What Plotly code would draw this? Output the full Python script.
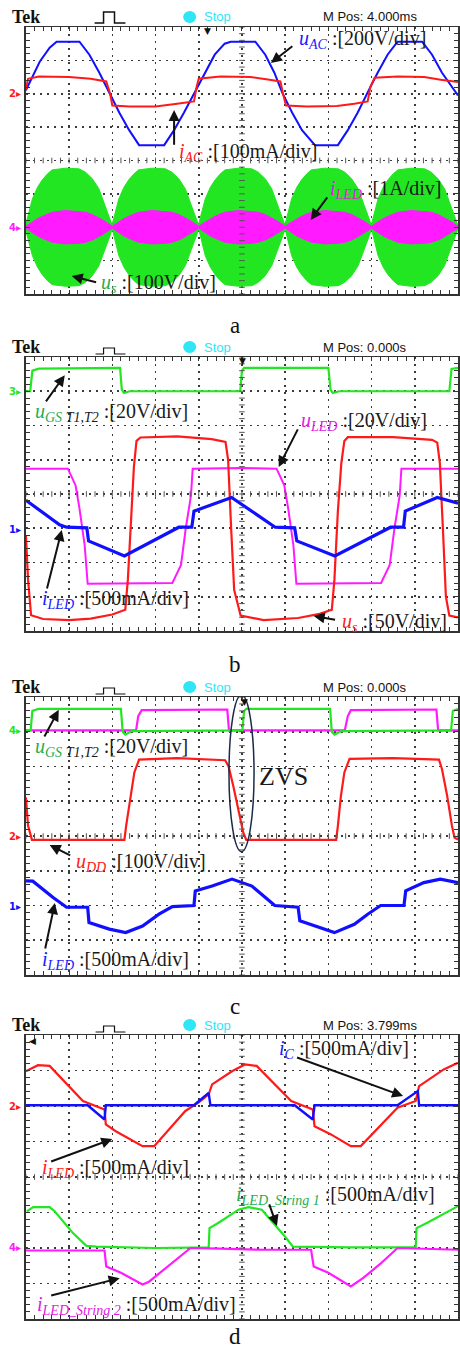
import numpy as np
import plotly.graph_objects as go

W, H = 460, 1352
LEFT = 26
PANEL_TB = [(27, 294), (357, 631), (697, 975), (1035, 1319)]

# ---------------- data (scope divisions: x 0..10, y -4..4) ----------------
# panel a
a_t_uac = [0, 0.32, 0.55, 0.71, 1.24, 1.47, 1.70, 1.93, 2.16, 2.39, 2.62, 3.20, 3.43, 3.66, 3.91,
           4.14, 4.37, 4.60, 4.74, 5.31, 5.54, 5.75, 5.93, 6.16, 6.39, 6.69, 7.22, 7.45, 7.68,
           7.91, 8.14, 8.37, 8.60, 9.17, 9.40, 9.63, 9.86, 10]
a_uac = [2.1, 2.96, 3.38, 3.56, 3.56, 3.17, 2.63, 2.04, 1.44, 0.91, 0.46, 0.46, 0.91, 1.44, 2.04,
         2.63, 3.17, 3.50, 3.56, 3.56, 3.17, 2.63, 2.04, 1.44, 0.91, 0.46, 0.46, 0.91, 1.44,
         2.04, 2.63, 3.17, 3.56, 3.56, 3.17, 2.63, 2.19, 1.95]
a_t_iac = [0, 0.05, 0.3, 1.0, 1.5, 1.86, 1.95, 2.0, 2.4, 3.0, 3.5, 3.89, 3.95, 4.0, 4.5, 5.2, 5.6,
           5.89, 5.95, 6.02, 6.5, 7.2, 7.6, 7.91, 7.97, 8.07, 8.6, 9.22, 9.6, 10]
a_iac = [2.13, 2.45, 2.52, 2.50, 2.45, 2.37, 2.0, 1.65, 1.62, 1.62, 1.70, 1.77, 2.2, 2.45, 2.52,
         2.5, 2.43, 2.37, 2.0, 1.65, 1.62, 1.63, 1.70, 1.77, 2.2, 2.48, 2.52, 2.50, 2.42, 2.35]
a_hump_start = [0, 2, 4, 6, 8]
a_env_t = [0, 0.08, 0.15, 0.27, 0.38, 0.5, 0.61, 0.92, 1.23, 1.38, 1.54, 1.69, 1.80, 1.92, 2.0]
a_us_env = [0.1, 0.5, 0.85, 1.2, 1.42, 1.6, 1.72, 1.77, 1.75, 1.65, 1.45, 1.15, 0.75, 0.35, 0.05]
a_iled_env = [0.03, 0.1, 0.16, 0.26, 0.33, 0.4, 0.45, 0.5, 0.48, 0.45, 0.38, 0.28, 0.2, 0.1, 0.03]
a_env_center = -2.0

# panel b
b_t_ugs = [0, 0.1, 0.15, 0.3, 2.18, 2.22, 2.27, 2.4, 4.96, 5.0, 5.05, 7.0, 7.05, 7.1, 7.25, 9.8, 9.85, 10]
b_ugs = [3.0, 3.0, 3.6, 3.66, 3.68, 3.05, 2.95, 3.0, 3.0, 3.6, 3.68, 3.68, 3.05, 2.95, 3.0, 3.0, 3.65, 3.68]
b_t_uled = [0, 0.97, 1.06, 1.15, 1.24, 1.36, 1.43, 2.5, 3.39, 3.59, 3.70, 3.82, 3.86, 5.0, 5.8, 5.89,
            5.98, 6.07, 6.19, 6.26, 7.3, 8.22, 8.42, 8.53, 8.65, 8.69, 10]
b_uled = [0.74, 0.74, 0.5, 0.25, -0.42, -1.49, -2.62, -2.62, -2.6, -2.07, -1.0, -0.05, 0.74, 0.76,
          0.74, 0.5, 0.25, -0.42, -1.49, -2.62, -2.62, -2.6, -2.07, -1.0, -0.05, 0.74, 0.74]
b_t_us = [0, 0.05, 0.12, 0.4, 1.0, 1.5, 2.0, 2.3, 2.36, 2.45, 2.5, 2.56, 2.65, 3.5, 4.3, 4.62, 4.68,
          4.75, 4.82, 4.97, 5.5, 6.3, 6.8, 7.08, 7.14, 7.22, 7.3, 7.37, 7.45, 8.5, 9.4, 9.52, 9.58,
          9.65, 9.72, 9.8, 10]
b_us = [-1.2, -2.5, -3.54, -3.65, -3.68, -3.64, -3.52, -3.38, -2.5, -0.5, 0.8, 1.55, 1.65, 1.68, 1.6,
        1.52, 1.0, -1.0, -2.8, -3.55, -3.68, -3.62, -3.5, -3.38, -2.5, -0.5, 0.9, 1.55, 1.66, 1.66,
        1.58, 1.5, 0.9, -1.0, -3.0, -3.55, -3.6]
b_t_iled = [0, 0.78, 0.94, 1.41, 1.45, 2.28, 3.54, 3.84, 3.89, 4.76, 5.77, 6.22, 6.27, 7.15, 8.44,
            8.74, 8.78, 9.52, 10]
b_iled = [-0.18, -0.9, -0.97, -0.99, -1.37, -1.81, -0.97, -0.97, -0.5, -0.1, -0.97, -0.99, -1.37,
          -1.81, -0.97, -0.97, -0.5, -0.1, -0.27]

# panel c
c_t_ugs = [0, 0.11, 0.15, 0.3, 2.2, 2.24, 2.3, 2.45, 5.01, 5.05, 5.1, 7.04, 7.08, 7.14, 7.3, 9.84, 9.88, 10]
c_ugs = [3.04, 3.04, 3.6, 3.66, 3.66, 3.0, 2.92, 3.02, 3.04, 3.6, 3.66, 3.66, 3.0, 2.92, 3.02, 3.04, 3.6, 3.66]
c_t_ugs2 = [0, 2.55, 2.6, 2.68, 4.66, 4.7, 7.38, 7.45, 7.52, 9.5, 9.54, 10]
c_ugs2 = [3.04, 3.04, 3.45, 3.62, 3.64, 3.04, 3.04, 3.45, 3.62, 3.64, 3.04, 3.04]
c_t_udd = [0, 0.05, 0.14, 2.28, 2.32, 2.43, 2.51, 2.62, 3.5, 4.61, 4.69, 4.80, 4.92, 5.03, 5.1, 7.18,
           7.22, 7.29, 7.37, 7.49, 8.5, 9.56, 9.63, 9.75, 9.86, 9.92, 10]
c_udd = [1.11, 0.3, -0.11, -0.11, 0.29, 1.15, 1.83, 2.2, 2.24, 2.18, 2.01, 1.44, 0.77, 0.1, -0.11,
         -0.11, 0.29, 1.15, 1.83, 2.22, 2.24, 2.2, 1.92, 1.15, 0.29, -0.05, -0.1]
c_t_iled = [0, 0.16, 0.63, 0.94, 1.43, 1.46, 1.93, 2.31, 2.70, 3.08, 3.39, 3.89, 3.92, 4.31, 4.77,
            5.23, 5.76, 6.30, 6.34, 6.76, 7.14, 7.60, 7.91, 8.21, 8.75, 8.79, 9.21, 9.59, 10]
c_iled = [-1.29, -1.3, -1.77, -2.05, -2.05, -2.49, -2.68, -2.78, -2.59, -2.25, -2.03, -2.0, -1.58,
          -1.44, -1.24, -1.44, -2.0, -2.05, -2.44, -2.63, -2.78, -2.54, -2.25, -2.0, -2.0, -1.58,
          -1.34, -1.24, -1.34]

# panel d
d_t_iled = [0.0, 0.28, 0.55, 0.74, 1.32, 1.82, 1.85, 2.08, 2.70, 2.97, 3.69, 4.0, 4.23, 4.31, 4.77,
            5.07, 5.34, 6.14, 6.64, 6.68, 7.06, 7.52, 7.75, 8.60, 9.02, 9.10, 9.67, 10]
d_iled = [2.98, 3.15, 3.13, 2.89, 2.14, 1.90, 1.48, 1.29, 0.87, 0.87, 1.86, 2.10, 2.33, 2.61, 2.98,
          3.17, 3.13, 2.14, 1.90, 1.43, 1.20, 0.87, 0.87, 1.95, 2.14, 2.56, 3.03, 3.22]
d_t_ic = [0, 1.43, 1.82, 1.85, 3.89, 4.23, 4.27, 6.22, 6.64, 6.68, 8.6, 9.07, 9.1, 10]
d_ic = [2.02, 2.02, 1.62, 2.02, 2.02, 2.37, 2.02, 2.02, 1.62, 2.02, 2.02, 2.42, 2.02, 2.02]
d_t_s1 = [0.02, 0.17, 0.55, 0.67, 1.09, 1.40, 1.63, 3.0, 4.23, 4.25, 4.46, 4.92, 5.15, 5.46, 5.99,
          6.18, 7.5, 9.02, 9.04, 9.29, 10]
d_s1 = [-0.97, -0.85, -0.85, -0.97, -1.58, -1.94, -1.96, -2.0, -1.98, -1.44, -1.29, -0.92, -0.85,
        -0.92, -1.67, -1.96, -1.98, -1.98, -1.44, -1.29, -0.82]
d_t_s2 = [0, 1.0, 1.82, 1.86, 2.2, 2.70, 2.85, 3.0, 3.4, 3.81, 4.5, 5.5, 6.6, 6.66, 7.0, 7.52, 7.8,
          8.2, 8.6, 9.2, 10]
d_s2 = [-2.07, -2.08, -2.07, -2.52, -2.7, -3.03, -2.95, -2.8, -2.4, -2.0, -2.02, -2.05, -2.05, -2.52,
        -2.7, -3.08, -2.85, -2.45, -2.0, -2.02, -2.05]

header_pos = ["M Pos: 4.000ms", "M Pos: 0.000s", "M Pos: 0.000s", "M Pos: 3.799ms"]
panel_labels = ["a", "b", "c", "d"]

# ---------------- styles ----------------
BLUE, RED, GREEN, MAG = "#1010ff", "#ff1a1a", "#22e622", "#ff1aff"
LBL_BLUE, LBL_RED, LBL_GREEN, LBL_MAG = "#1a1aff", "#ff2020", "#1fae4f", "#e020e0"
SERIF = "Liberation Serif"
SANS = "Liberation Sans"

fig = go.Figure()


def names(i):
    s = "" if i == 1 else str(i)
    return "x" + s, "y" + s


def line(i, x, y, color, width=2.0):
    xr, yr = names(i)
    fig.add_trace(go.Scatter(x=x, y=y, mode="lines", line=dict(color=color, width=width),
                             xaxis=xr, yaxis=yr, hoverinfo="skip"))


def envelope(starts, t, amp, center):
    xs, up = [], []
    for s in starts:
        for tt, a in zip(t, amp):
            xs.append(s + tt)
            up.append(center + a)
    lo = [2 * center - u for u in up]
    return xs + xs[::-1], up + lo[::-1]


def label(i, x, y, html, size=20):
    xr, yr = names(i)
    fig.add_annotation(xref=xr, yref=yr, x=x, y=y, text=html, showarrow=False,
                       xanchor="left", yanchor="middle",
                       font=dict(family=SERIF, size=size, color="#1a1a1a"))


def arrow(i, x0, y0, x1, y1):
    xr, yr = names(i)
    fig.add_annotation(xref=xr, yref=yr, axref=xr, ayref=yr, x=x1, y=y1, ax=x0, ay=y0,
                       text="", showarrow=True, arrowhead=2, arrowsize=1.1, arrowwidth=2,
                       arrowcolor="#111", standoff=0, startstandoff=0)


def P(x, y):
    return x / W, 1 - y / H


# ---------------- traces ----------------
# panel a
ex, ey = envelope(a_hump_start, a_env_t, a_us_env, a_env_center)
fig.add_trace(go.Scatter(x=ex, y=ey, fill="toself", fillcolor=GREEN, mode="lines",
                         line=dict(color=GREEN, width=1), hoverinfo="skip"))
ex, ey = envelope(a_hump_start, a_env_t, a_iled_env, a_env_center)
fig.add_trace(go.Scatter(x=ex, y=ey, fill="toself", fillcolor=MAG, mode="lines",
                         line=dict(color=MAG, width=1), hoverinfo="skip"))
line(1, a_t_uac, a_uac, BLUE, 2)
line(1, a_t_iac, a_iac, RED, 2)

# panel b
line(2, b_t_ugs, b_ugs, GREEN, 2.2)
line(2, b_t_uled, b_uled, MAG, 2)
line(2, b_t_us, b_us, RED, 2.2)
line(2, b_t_iled, b_iled, BLUE, 3.2)

# panel c
line(3, c_t_ugs2, c_ugs2, MAG, 2.2)
line(3, c_t_ugs, c_ugs, GREEN, 2.2)
line(3, c_t_udd, c_udd, RED, 2.2)
line(3, c_t_iled, c_iled, BLUE, 3.2)

# panel d
line(4, d_t_iled, d_iled, RED, 2.2)
line(4, d_t_ic, d_ic, BLUE, 2.4)
line(4, d_t_s1, d_s1, GREEN, 2.2)
line(4, d_t_s2, d_s2, MAG, 2.2)

# centre-line tick marks (scope graticule)
tick_x = np.arange(0, 10.001, 0.2)
tick_y = np.arange(-4, 4.001, 0.2)
for i in range(1, 5):
    xr, yr = names(i)
    fig.add_trace(go.Scatter(x=tick_x, y=[0] * len(tick_x), mode="markers", xaxis=xr, yaxis=yr,
                             marker=dict(symbol="line-ns", size=4, line=dict(width=1, color="#555")),
                             hoverinfo="skip"))
    fig.add_trace(go.Scatter(x=[5] * len(tick_y), y=tick_y, mode="markers", xaxis=xr, yaxis=yr,
                             marker=dict(symbol="line-ew", size=4, line=dict(width=1, color="#555")),
                             hoverinfo="skip"))

# ---------------- axes ----------------
layout = {}
common = dict(showticklabels=False, ticks="inside", ticklen=4, tickwidth=1, tickcolor="#333",
              showline=True, linecolor="#333", linewidth=1.5, mirror="ticks",
              showgrid=True, gridcolor="#3a3a3a", gridwidth=1.6, griddash="2px,5px",
              zeroline=False, fixedrange=True, dtick=1, tick0=0,
              minor=dict(dtick=0.2, ticks="inside", ticklen=4, tickwidth=1, tickcolor="#333",
                         showgrid=False))
for i, (top, bot) in enumerate(PANEL_TB, start=1):
    xr, yr = names(i)
    xk = "xaxis" + ("" if i == 1 else str(i))
    yk = "yaxis" + ("" if i == 1 else str(i))
    layout[xk] = dict(domain=[LEFT / W, 1.0], range=[0, 10], anchor=yr, **common)
    layout[yk] = dict(domain=[1 - bot / H, 1 - top / H], range=[-4, 4], anchor=xr, **common)
fig.update_layout(**layout)

# ---------------- headers ----------------
shapes = []
for i, (top, bot) in enumerate(PANEL_TB):
    hy = top - 10
    x, y = P(10, hy)
    fig.add_annotation(xref="paper", yref="paper", x=x, y=y, text="<b>Tek</b>", showarrow=False,
                       xanchor="left", yanchor="middle", font=dict(family=SERIF, size=18, color="#111"))
    x, y = P(322, hy)
    fig.add_annotation(xref="paper", yref="paper", x=x, y=y, text=header_pos[i], showarrow=False,
                       xanchor="left", yanchor="middle", font=dict(family=SANS, size=13, color="#111"))
    x, y = P(203, hy)
    fig.add_annotation(xref="paper", yref="paper", x=x, y=y, text="Stop", showarrow=False,
                       xanchor="left", yanchor="middle", font=dict(family=SANS, size=13, color="#2ee6f5"))
    x0, y0 = P(184, hy - 6)
    x1, y1 = P(197, hy + 6)
    shapes.append(dict(type="circle", xref="paper", yref="paper", x0=x0, x1=x1, y0=y1, y1=y0,
                       fillcolor="#2ee6f5", line=dict(color="#2ee6f5", width=0)))
    if i == 0:
        pts = [(95, top - 4), (104, top - 4), (104, top - 15), (115, top - 15), (115, top - 4), (126, top - 4)]
        w = 1.5
    else:
        pts = [(96, top - 3), (104, top - 3), (104, top - 9), (115, top - 9), (115, top - 3), (126, top - 3)]
        w = 1.2
    path = "M " + " L ".join("%.5f,%.5f" % P(px, py) for px, py in pts)
    shapes.append(dict(type="path", xref="paper", yref="paper", path=path,
                       line=dict(color="#111", width=w)))
    # panel letter
    x, y = P(236, [325, 664, 1006, 1351][i])
    fig.add_annotation(xref="paper", yref="paper", x=x, y=y, text=panel_labels[i], showarrow=False,
                       xanchor="center", yanchor="middle" if i < 3 else "bottom",
                       font=dict(family=SERIF, size=23, color="#111"))

# trigger markers
for (px, py, txt, sz) in [(208, 31, "▼", 9), (244, 361, "▼", 9), (246, 702, "▼", 9), (33, 1041, "◀", 9)]:
    x, y = P(px, py)
    fig.add_annotation(xref="paper", yref="paper", x=x, y=y, text=txt, showarrow=False,
                       xanchor="center", yanchor="middle", font=dict(family="DejaVu Sans", size=sz, color="#111"))

# channel markers
for (py, txt, col) in [(93, "2▸", RED), (228, "4▸", MAG), (391, "3▸", GREEN), (529, "1▸", BLUE),
                       (730, "4▸", GREEN), (836, "2▸", RED), (906, "1▸", BLUE),
                       (1106, "2▸", RED), (1247, "4▸", MAG)]:
    x, y = P(7, py)
    fig.add_annotation(xref="paper", yref="paper", x=x, y=y, text="<b>%s</b>" % txt, showarrow=False,
                       xanchor="left", yanchor="middle", font=dict(family="DejaVu Sans", size=10, color=col))

# ---------------- labels & arrows ----------------
def lab(col, sym, sub, extra=""):
    return ('<span style="color:%s"><i>%s<sub>%s</sub></i></span>%s :[' % (col, sym, sub, extra))

# panel a
label(1, 6.27, 3.64, lab(LBL_BLUE, "u", "AC") + "200V/div]")
arrow(1, 6.2, 3.46, 5.67, 2.92)
label(1, 3.5, 0.25, lab(LBL_RED, "i", "AC") + "100mA/div]")
arrow(1, 3.43, 0.43, 3.43, 1.51)
label(1, 7.0, -0.88, lab(LBL_MAG, "i", "LED") + "1A/div]")
arrow(1, 7.0, -1.06, 6.59, -1.78)
label(1, 1.7, -3.7, lab(LBL_GREEN, "u", "s") + "100V/div]")
arrow(1, 1.66, -3.66, 1.06, -3.46)

# panel b
label(2, 0.16, 2.39, lab(LBL_GREEN, "u", "GS", '<i><sub> T1,T2</sub></i>') + "20V/div]")
arrow(2, 0.44, 2.66, 0.9, 3.47)
label(2, 6.31, 2.13, lab(LBL_MAG, "u", "LED") + "20V/div]")
arrow(2, 6.31, 1.93, 5.85, 0.79)
label(2, 0.32, -3.09, lab(LBL_BLUE, "i", "LED") + "500mA/div]")
arrow(2, 0.48, -2.80, 0.83, -1.05)
label(2, 7.28, -3.74, lab(LBL_RED, "u", "s") + "50V/div]")
arrow(2, 7.19, -3.68, 6.66, -3.56)

# panel c
label(3, 0.16, 2.56, lab(LBL_GREEN, "u", "GS", '<i><sub> T1,T2</sub></i>') + "20V/div]")
arrow(3, 0.41, 2.82, 0.76, 3.63)
label(3, 1.11, -0.75, lab(LBL_RED, "u", "DD") + "100V/div]")
arrow(3, 1.06, -0.58, 0.55, -0.26)
label(3, 0.32, -3.57, lab(LBL_BLUE, "i", "LED") + "500mA/div]")
arrow(3, 0.44, -3.28, 0.67, -1.93)
label(3, 5.35, 1.70, "ZVS", size=26)
shapes.append(dict(type="circle", xref="x3", yref="y3", x0=4.70, x1=5.28, y0=-0.45, y1=4.06,
                   line=dict(color="#1a2a4a", width=1.5)))

# panel d
label(4, 5.81, 3.58, lab(LBL_BLUE, "i", "C") + "500mA/div]")
arrow(4, 6.24, 3.38, 8.73, 2.28)
label(4, 0.32, 0.25, lab(LBL_RED, "i", "LED") + "500mA/div]")
arrow(4, 0.55, 0.42, 2.0, 1.07)
label(4, 4.82, -0.51, lab(LBL_GREEN, "i", "LED_String 1") + "500mA/div]")
arrow(4, 5.62, -0.73, 5.81, -1.38)
label(4, 0.21, -3.61, lab(LBL_MAG, "i", "LED_String 2") + "500mA/div]")
arrow(4, 0.55, -3.35, 2.17, -2.85)

fig.update_layout(width=W, height=H, margin=dict(l=0, r=0, t=0, b=0),
                  paper_bgcolor="white", plot_bgcolor="white", showlegend=False,
                  shapes=shapes, hovermode=False)

fig.write_html("out.html", config={"displayModeBar": False, "staticPlot": True},
               post_script="document.body.style.margin='0';document.body.style.overflow='hidden';")
